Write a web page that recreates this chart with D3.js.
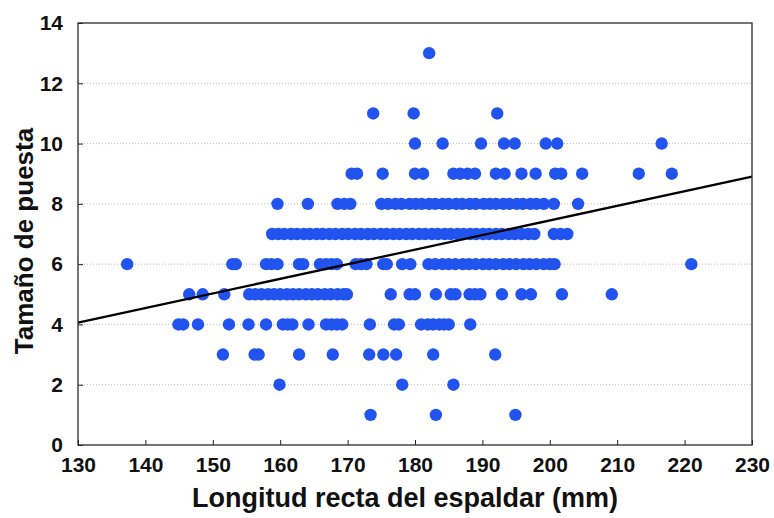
<!DOCTYPE html>
<html>
<head>
<meta charset="utf-8">
<script src="https://cdn.jsdelivr.net/npm/d3@7/dist/d3.min.js"></script>
<style>
  html, body { margin: 0; padding: 0; background: #ffffff; }
  svg { display: block; }
  text { font-family: "Liberation Sans", Arial, sans-serif; fill: #111; }
</style>
</head>
<body>
<svg id="chart" width="774" height="518"></svg>
<script>
// Clutch size (eggs) by straight carapace length (mm), one array of lengths per clutch size
const clutchSizes = [13, 11, 10, 9, 8, 7, 6, 5, 4, 3, 2, 1];
const lengthsBySize = {
  13: [182.1],
  11: [173.8, 179.8, 192.2],
  10: [180.0, 184.1, 189.8, 193.2, 194.8, 199.4, 201.1, 216.6],
  9:  [170.6, 171.4, 175.2, 180.0, 181.2, 185.7, 186.7, 187.8, 188.9, 192.0, 193.3,
       195.8, 197.9, 200.8, 201.7, 204.8, 213.2, 218.1],
  8:  [159.6, 164.1, 168.5, 169.5, 170.4, 175.0, 176.0, 177.1, 178.0, 179.2, 180.1,
       181.0, 182.1, 183.0, 184.1, 185.0, 186.1, 187.0, 188.1, 189.0, 190.2, 191.1,
       192.0, 193.1, 194.0, 195.1, 196.0, 197.1, 198.0, 199.1, 200.6, 204.2],
  7:  [158.8, 159.7, 160.6, 161.6, 162.5, 163.5, 164.4, 165.4, 166.3, 167.3, 168.2,
       169.2, 170.1, 171.1, 172.0, 173.0, 173.9, 174.9, 175.8, 176.8, 177.7, 178.7,
       179.6, 180.6, 181.5, 182.5, 183.4, 184.4, 185.3, 186.3, 187.2, 188.2, 189.1,
       190.1, 191.0, 192.0, 192.9, 193.9, 194.8, 195.8, 196.8, 197.7, 200.6, 201.6, 202.6],
  6:  [137.3, 152.9, 153.4, 157.9, 158.7, 159.6, 162.8, 163.4, 165.9, 166.8, 167.6,
       168.4, 171.2, 172.0, 172.8, 175.3, 175.8, 178.1, 179.3, 182.0, 183.0, 184.1,
       185.0, 186.0, 187.1, 188.0, 189.0, 190.1, 191.0, 192.0, 193.1, 194.0, 195.0,
       196.1, 197.0, 198.0, 199.1, 200.0, 200.7, 221.0],
  5:  [146.5, 148.5, 151.7, 155.4, 156.3, 157.2, 158.2, 159.1, 160.0, 161.0, 161.9,
       162.8, 163.8, 164.7, 165.6, 166.6, 167.5, 168.5, 169.4, 169.9, 176.4, 179.2,
       180.0, 183.1, 185.3, 186.0, 188.1, 188.9, 189.7, 192.9, 195.8, 197.2, 201.8, 209.2],
  4:  [144.9, 145.6, 147.8, 152.4, 155.3, 157.9, 160.4, 161.1, 161.8, 164.2, 166.8,
       167.6, 168.4, 169.2, 173.3, 176.9, 177.6, 180.9, 181.9, 182.7, 183.6, 184.3,
       185.0, 188.2],
  3:  [151.5, 156.2, 156.8, 162.8, 167.8, 173.2, 175.3, 177.2, 182.7, 191.9],
  2:  [159.9, 178.1, 185.7],
  1:  [173.4, 183.1, 194.9]
};

// Least-squares fit line, given by its ends at the axis limits
const fitLengths = [130, 230];
const fitClutch = [4.06, 8.90];

const xTicks = [130, 140, 150, 160, 170, 180, 190, 200, 210, 220, 230];
const yTicks = [0, 2, 4, 6, 8, 10, 12, 14];
const xTitle = "Longitud recta del espaldar (mm)";
const yTitle = "Tamaño de puesta";

// Flatten into (length, clutch) pairs
const points = clutchSizes.flatMap(c => lengthsBySize[c].map(len => ({ len, c })));
const fitLine = fitLengths.map((len, i) => ({ len, c: fitClutch[i] }));

const margin = { left: 78, right: 22, top: 23, bottom: 73 };
const W = 774, H = 518;
const svg = d3.select("#chart");

const x = d3.scaleLinear().domain([130, 230]).range([margin.left, W - margin.right]);
const y = d3.scaleLinear().domain([0, 14]).range([H - margin.bottom, margin.top]);

// Dotted horizontal grid
svg.append("g")
  .selectAll("line")
  .data(yTicks.filter(t => t > 0 && t < 14))
  .join("line")
  .attr("x1", x.range()[0]).attr("x2", x.range()[1])
  .attr("y1", d => y(d)).attr("y2", d => y(d))
  .attr("stroke", "#bdbdbd")
  .attr("stroke-width", 1)
  .attr("stroke-dasharray", "1,2");

// Points
svg.append("g")
  .selectAll("circle")
  .data(points)
  .join("circle")
  .attr("cx", d => x(d.len))
  .attr("cy", d => y(d.c))
  .attr("r", 6.2)
  .attr("fill", "#2153ee");

// Regression line
svg.append("path")
  .datum(fitLine)
  .attr("d", d3.line().x(d => x(d.len)).y(d => y(d.c)))
  .attr("stroke", "#000")
  .attr("stroke-width", 2.3)
  .attr("fill", "none");

// Axes with inward ticks
const xAxis = svg.append("g")
  .attr("transform", `translate(0,${y(0)})`)
  .call(d3.axisBottom(x).tickValues(xTicks).tickSizeInner(-5).tickSizeOuter(0).tickPadding(12).tickFormat(d3.format("d")));
const yAxis = svg.append("g")
  .attr("transform", `translate(${x(130)},0)`)
  .call(d3.axisLeft(y).tickValues(yTicks).tickSizeInner(-5).tickSizeOuter(0).tickPadding(15).tickFormat(d3.format("d")));

[xAxis, yAxis].forEach(g => {
  g.select(".domain").remove();
  g.selectAll(".tick line").attr("stroke", "#222").attr("stroke-width", 1);
  g.selectAll(".tick text")
    .attr("fill", "#111")
    .style("font-size", "21px")
    .style("font-weight", "bold")
    .style("font-family", "'Liberation Sans', Arial, sans-serif");
});

// Plot frame
svg.append("rect")
  .attr("x", x(130)).attr("y", y(14))
  .attr("width", x(230) - x(130))
  .attr("height", y(0) - y(14))
  .attr("fill", "none")
  .attr("stroke", "#2a2a2a")
  .attr("stroke-width", 1.3);

// Axis titles
svg.append("text")
  .attr("x", 405).attr("y", 507)
  .attr("text-anchor", "middle")
  .style("font-size", "27px")
  .style("font-weight", "bold")
  .text(xTitle);

svg.append("text")
  .attr("transform", "translate(33,241) rotate(-90)")
  .attr("text-anchor", "middle")
  .style("font-size", "26px")
  .style("font-weight", "bold")
  .text(yTitle);
</script>
</body>
</html>
